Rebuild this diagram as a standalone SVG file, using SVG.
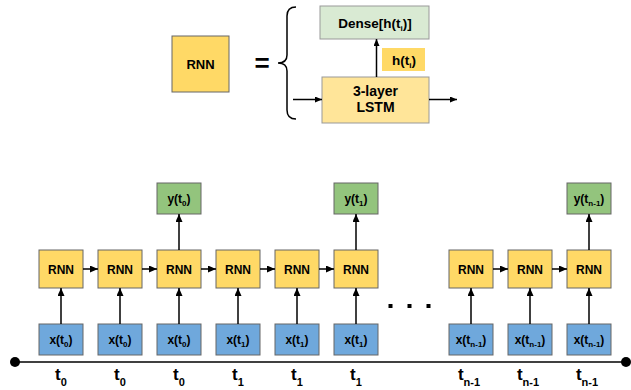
<svg xmlns="http://www.w3.org/2000/svg" width="631" height="390" viewBox="0 0 631 390">
<style>
text{font-family:"Liberation Sans",Arial,sans-serif;font-weight:bold;fill:#000;text-anchor:middle}
.rnn{fill:#ffd966;stroke:#666;stroke-width:1}
.xin{fill:#6fa8dc;stroke:#666;stroke-width:1}
.yout{fill:#93c47d;stroke:#666;stroke-width:1}
.lbl{font-size:12px}
.sub{font-size:8px}
.tl{font-size:17px}
.tsub{font-size:11px}
.big{font-size:13.5px}
.conn line,.conn path{stroke:#000;stroke-width:1.5;fill:none}
</style>
<defs>
<marker id="ah" viewBox="0 0 8 7" refX="8" refY="3.5" markerWidth="8" markerHeight="7" markerUnits="userSpaceOnUse" orient="auto">
<path d="M0,0 L8,3.5 L0,7 z" fill="#000"/>
</marker>
<marker id="ahs" viewBox="0 0 7 6" refX="7" refY="3" markerWidth="7" markerHeight="6" markerUnits="userSpaceOnUse" orient="auto">
<path d="M0,0 L7,3 L0,6 z" fill="#000"/>
</marker>
</defs>
<rect width="631" height="390" fill="#fff"/>

<!-- legend -->
<g id="legend-rnn">
<rect x="172" y="36" width="57" height="56" class="rnn"/>
<text x="200.5" y="68.5" style="font-size:13px">RNN</text>
</g>
<text x="262" y="72" style="font-size:26px">=</text>
<g id="dense">
<rect x="320" y="6" width="109" height="33" fill="#d9ead3" stroke="#999"/>
<text x="375" y="28" class="big">Dense[h(t<tspan class="sub" dy="3">i</tspan><tspan dy="-3">)]</tspan></text>
</g>
<g id="h-label">
<rect x="382" y="48" width="43" height="23" fill="#ffd966"/>
<text x="404" y="65" class="big">h(t<tspan class="sub" dy="3">i</tspan><tspan dy="-3">)</tspan></text>
</g>
<g id="lstm">
<rect x="322" y="77" width="107" height="46" fill="#ffe599" stroke="#999"/>
<text x="375.5" y="96" style="font-size:14px">3-layer</text>
<text x="375.5" y="111.5" style="font-size:14px">LSTM</text>
</g>

<!-- nodes: RNN row -->
<g id="rnn0"><rect x="39" y="250" width="44" height="38" class="rnn"/><text x="61" y="273.5" class="lbl">RNN</text></g>
<g id="rnn1"><rect x="98" y="250" width="44" height="38" class="rnn"/><text x="120" y="273.5" class="lbl">RNN</text></g>
<g id="rnn2"><rect x="157" y="250" width="44" height="38" class="rnn"/><text x="179" y="273.5" class="lbl">RNN</text></g>
<g id="rnn3"><rect x="216" y="250" width="44" height="38" class="rnn"/><text x="238" y="273.5" class="lbl">RNN</text></g>
<g id="rnn4"><rect x="275" y="250" width="44" height="38" class="rnn"/><text x="297" y="273.5" class="lbl">RNN</text></g>
<g id="rnn5"><rect x="334" y="250" width="44" height="38" class="rnn"/><text x="356" y="273.5" class="lbl">RNN</text></g>
<g id="rnn6"><rect x="449" y="250" width="44" height="38" class="rnn"/><text x="471" y="273.5" class="lbl">RNN</text></g>
<g id="rnn7"><rect x="508" y="250" width="44" height="38" class="rnn"/><text x="530" y="273.5" class="lbl">RNN</text></g>
<g id="rnn8"><rect x="567" y="250" width="44" height="38" class="rnn"/><text x="589" y="273.5" class="lbl">RNN</text></g>

<!-- inputs -->
<g id="x0"><rect x="39" y="324" width="44" height="31" class="xin"/><text x="61" y="343.5" class="lbl">x(t<tspan class="sub" dy="3">0</tspan><tspan dy="-3">)</tspan></text></g>
<g id="x1"><rect x="98" y="324" width="44" height="31" class="xin"/><text x="120" y="343.5" class="lbl">x(t<tspan class="sub" dy="3">0</tspan><tspan dy="-3">)</tspan></text></g>
<g id="x2"><rect x="157" y="324" width="44" height="31" class="xin"/><text x="179" y="343.5" class="lbl">x(t<tspan class="sub" dy="3">0</tspan><tspan dy="-3">)</tspan></text></g>
<g id="x3"><rect x="216" y="324" width="44" height="31" class="xin"/><text x="238" y="343.5" class="lbl">x(t<tspan class="sub" dy="3">1</tspan><tspan dy="-3">)</tspan></text></g>
<g id="x4"><rect x="275" y="324" width="44" height="31" class="xin"/><text x="297" y="343.5" class="lbl">x(t<tspan class="sub" dy="3">1</tspan><tspan dy="-3">)</tspan></text></g>
<g id="x5"><rect x="334" y="324" width="44" height="31" class="xin"/><text x="356" y="343.5" class="lbl">x(t<tspan class="sub" dy="3">1</tspan><tspan dy="-3">)</tspan></text></g>
<g id="x6"><rect x="449" y="324" width="44" height="31" class="xin"/><text x="471" y="343.5" class="lbl">x(t<tspan class="sub" dy="3">n-1</tspan><tspan dy="-3">)</tspan></text></g>
<g id="x7"><rect x="508" y="324" width="44" height="31" class="xin"/><text x="530" y="343.5" class="lbl">x(t<tspan class="sub" dy="3">n-1</tspan><tspan dy="-3">)</tspan></text></g>
<g id="x8"><rect x="567" y="324" width="44" height="31" class="xin"/><text x="589" y="343.5" class="lbl">x(t<tspan class="sub" dy="3">n-1</tspan><tspan dy="-3">)</tspan></text></g>

<!-- outputs -->
<g id="y0"><rect x="157" y="183" width="44" height="31" class="yout"/><text x="179" y="202.5" class="lbl">y(t<tspan class="sub" dy="3">0</tspan><tspan dy="-3">)</tspan></text></g>
<g id="y1"><rect x="334" y="183" width="44" height="31" class="yout"/><text x="356" y="202.5" class="lbl">y(t<tspan class="sub" dy="3">1</tspan><tspan dy="-3">)</tspan></text></g>
<g id="y2"><rect x="567" y="183" width="44" height="31" class="yout"/><text x="589" y="202.5" class="lbl">y(t<tspan class="sub" dy="3">n-1</tspan><tspan dy="-3">)</tspan></text></g>

<!-- ellipsis -->
<g id="ellipsis" fill="#000">
<rect x="388.5" y="304" width="4" height="4"/>
<rect x="407.5" y="304" width="4" height="4"/>
<rect x="426.5" y="304" width="4" height="4"/>
</g>

<!-- connectors -->
<g id="connectors" class="conn">
<path d="M296,7 Q287,7 287,16 L287,55 Q287,63 278,63 Q287,63 287,71 L287,110 Q287,119 296,119"/>
<line x1="376.5" y1="77" x2="376.5" y2="39" marker-end="url(#ahs)"/>
<line x1="293" y1="99.5" x2="322" y2="99.5" marker-end="url(#ahs)"/>
<line x1="429" y1="99.5" x2="457" y2="99.5" marker-end="url(#ahs)"/>

<line x1="83" y1="269" x2="98" y2="269" marker-end="url(#ah)"/>
<line x1="142" y1="269" x2="157" y2="269" marker-end="url(#ah)"/>
<line x1="201" y1="269" x2="216" y2="269" marker-end="url(#ah)"/>
<line x1="260" y1="269" x2="275" y2="269" marker-end="url(#ah)"/>
<line x1="319" y1="269" x2="334" y2="269" marker-end="url(#ah)"/>
<line x1="493" y1="269" x2="508" y2="269" marker-end="url(#ah)"/>
<line x1="552" y1="269" x2="567" y2="269" marker-end="url(#ah)"/>

<line x1="61" y1="324" x2="61" y2="288" marker-end="url(#ah)"/>
<line x1="120" y1="324" x2="120" y2="288" marker-end="url(#ah)"/>
<line x1="179" y1="324" x2="179" y2="288" marker-end="url(#ah)"/>
<line x1="238" y1="324" x2="238" y2="288" marker-end="url(#ah)"/>
<line x1="297" y1="324" x2="297" y2="288" marker-end="url(#ah)"/>
<line x1="356" y1="324" x2="356" y2="288" marker-end="url(#ah)"/>
<line x1="471" y1="324" x2="471" y2="288" marker-end="url(#ah)"/>
<line x1="530" y1="324" x2="530" y2="288" marker-end="url(#ah)"/>
<line x1="589" y1="324" x2="589" y2="288" marker-end="url(#ah)"/>

<line x1="179" y1="250" x2="179" y2="214" marker-end="url(#ah)"/>
<line x1="356" y1="250" x2="356" y2="214" marker-end="url(#ah)"/>
<line x1="589" y1="250" x2="589" y2="214" marker-end="url(#ah)"/>

<line x1="15" y1="362" x2="626" y2="362"/>
</g>
<g id="timeline-ends" fill="#000">
<circle cx="15" cy="362" r="5"/>
<circle cx="626" cy="362" r="5"/>
</g>

<!-- time labels -->
<g id="time-labels">
<text x="61" y="380" class="tl">t<tspan class="tsub" dy="6">0</tspan></text>
<text x="120" y="380" class="tl">t<tspan class="tsub" dy="6">0</tspan></text>
<text x="179" y="380" class="tl">t<tspan class="tsub" dy="6">0</tspan></text>
<text x="238" y="380" class="tl">t<tspan class="tsub" dy="6">1</tspan></text>
<text x="297" y="380" class="tl">t<tspan class="tsub" dy="6">1</tspan></text>
<text x="356" y="380" class="tl">t<tspan class="tsub" dy="6">1</tspan></text>
<text x="469" y="380" class="tl">t<tspan class="tsub" dy="6">n-1</tspan></text>
<text x="528" y="380" class="tl">t<tspan class="tsub" dy="6">n-1</tspan></text>
<text x="587" y="380" class="tl">t<tspan class="tsub" dy="6">n-1</tspan></text>
</g>
</svg>
